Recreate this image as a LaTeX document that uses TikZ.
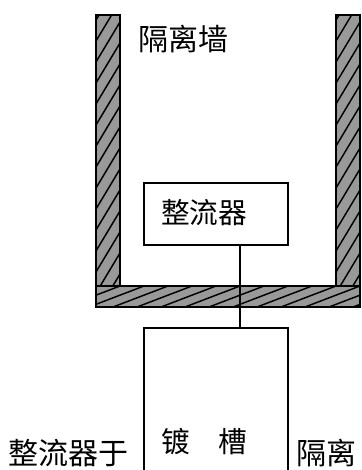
\documentclass[tikz,border=0pt]{standalone}
\usepackage{fontspec}
\newfontfamily\cjk{Noto Sans CJK SC}
\begin{document}
\begin{tikzpicture}[x=0.75pt,y=-0.75pt,
  wallfill/.style={fill=black!40},
  walledge/.style={draw=black, line width=1.5pt},
  hatch/.style={line width=1.1pt},
  lbl/.style={font=\cjk\fontsize{22.5}{26}\selectfont, inner sep=0pt, anchor=west},
  lblsmall/.style={font=\cjk\fontsize{21.5}{25}\selectfont, inner sep=0pt, anchor=west},
  boxnode/.style={draw, line width=1.5pt, inner sep=0pt, rectangle}]
\useasboundingbox (0,0) rectangle (361,470);
\fill[white] (0,0) rectangle (361,470);
% wall fills
\fill[wallfill] (96,15) rectangle (120,286);
\fill[wallfill] (336,15) rectangle (360,286);
\fill[wallfill] (96,286) rectangle (360,307);
% hatching
\begin{scope}
  \clip (96,15) rectangle (120,286);
  \foreach \y in {20,41,...,340} \draw[hatch] (96,\y) -- (120,\y-40);
\end{scope}
\begin{scope}
  \clip (336,15) rectangle (360,286);
  \foreach \y in {20,41,...,340} \draw[hatch] (336,\y) -- (360,\y-40);
\end{scope}
\begin{scope}
  \clip (96,286) rectangle (360,307);
  \foreach \x in {41,65,...,400} \draw[hatch] (\x,307) -- (\x+55,286);
\end{scope}
% wall outlines
\draw[walledge] (96,15) rectangle (120,286);
\draw[walledge] (336,15) rectangle (360,286);
\draw[walledge] (96,286) rectangle (360,307);
% rectifier box and bath
\node[boxnode, minimum width=108pt, minimum height=46.5pt] (rect) at (215.5,214) {};
\node[boxnode, minimum width=108pt, minimum height=115.5pt] (bath) at (216,405) {};
\draw[line width=1.5pt] ([xshift=18pt]rect.south) -- ([xshift=18pt]rect.south |- bath.north);
% labels
\node[lbl] (wallname) at (138,39) {隔离墙};
\node[lblsmall] (rectname) at (161,213) {整流器};
\node[lblsmall] (bathname) at (161,442) {镀　槽};
\node[lbl] (leftnote) at (8,453) {整流器于};
\node[lbl] (rightnote) at (296,453) {隔离};
\end{tikzpicture}
\end{document}
